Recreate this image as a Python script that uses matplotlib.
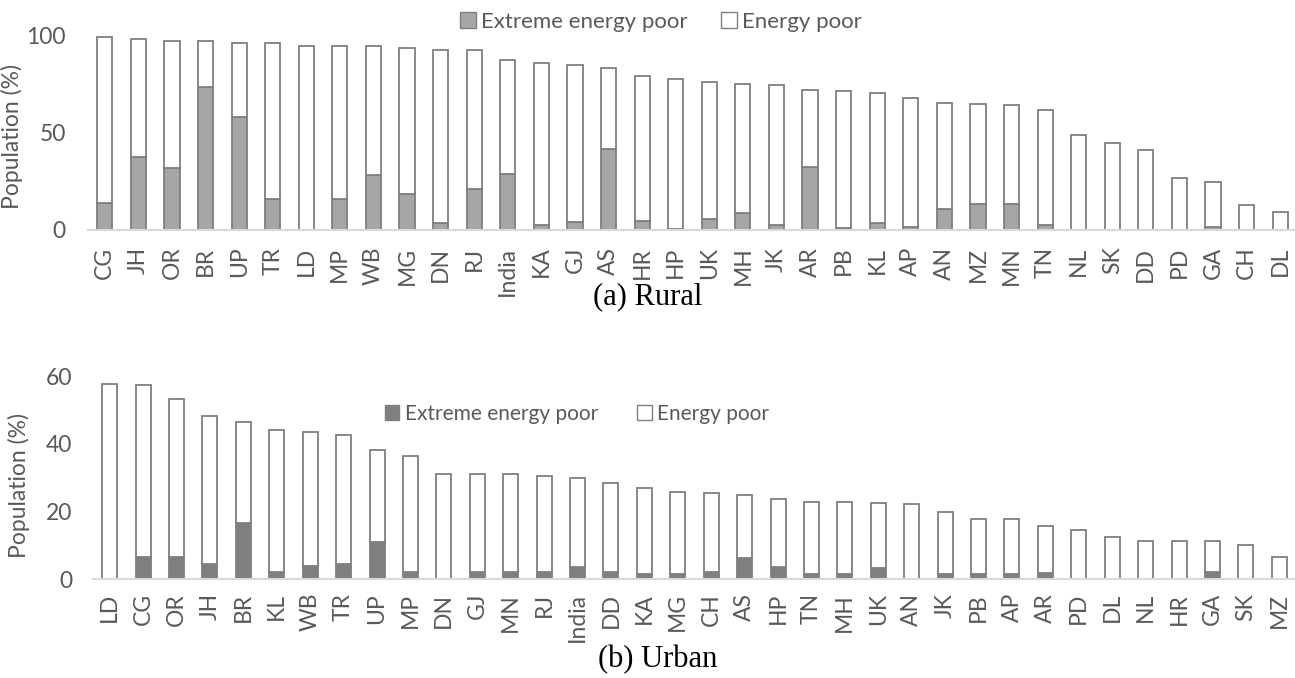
import numpy as np
import matplotlib.pyplot as plt
from matplotlib.patches import Patch

plt.rcParams['font.family'] = ['Lato', 'DejaVu Sans']

# 农村 (rural): 能源贫困总比例 和 极端能源贫困比例
rural_states = ['CG', 'JH', 'OR', 'BR', 'UP', 'TR', 'LD', 'MP', 'WB', 'MG', 'DN', 'RJ',
                'India', 'KA', 'GJ', 'AS', 'HR', 'HP', 'UK', 'MH', 'JK', 'AR', 'PB', 'KL',
                'AP', 'AN', 'MZ', 'MN', 'TN', 'NL', 'SK', 'DD', 'PD', 'GA', 'CH', 'DL']
rural_total = [98.8, 98.1, 96.9, 96.9, 95.7, 95.7, 94.4, 94.4, 94.4, 93.5, 92.3, 92.3,
               87.0, 85.8, 84.4, 82.9, 78.8, 77.6, 75.9, 75.0, 74.4, 71.8, 71.3, 70.4,
               67.9, 65.3, 64.6, 63.9, 61.4, 48.7, 44.8, 40.9, 26.8, 24.8, 13.0, 9.1]
rural_extreme = [13.7, 37.6, 31.6, 73.2, 57.8, 15.7, 0.0, 15.7, 28.2, 18.5, 3.4, 21.0,
                 28.6, 2.6, 3.9, 41.5, 4.8, 0.5, 5.8, 8.5, 2.6, 32.1, 1.2, 3.4,
                 1.7, 10.6, 13.3, 13.3, 2.6, 0.0, 0.0, 0.0, 0.0, 1.7, 0.0, 0.0]

# 城市 (urban)
urban_states = ['LD', 'CG', 'OR', 'JH', 'BR', 'KL', 'WB', 'TR', 'UP', 'MP', 'DN', 'GJ',
                'MN', 'RJ', 'India', 'DD', 'KA', 'MG', 'CH', 'AS', 'HP', 'TN', 'MH', 'UK',
                'AN', 'JK', 'PB', 'AP', 'AR', 'PD', 'DL', 'NL', 'HR', 'GA', 'SK', 'MZ']
urban_total = [57.9, 57.5, 53.2, 48.3, 46.5, 44.1, 43.5, 42.6, 38.1, 36.5, 31.2, 31.2,
               31.2, 30.5, 29.8, 28.5, 27.1, 25.9, 25.5, 24.8, 23.6, 22.8, 22.8, 22.5,
               22.1, 19.9, 17.9, 17.9, 15.7, 14.4, 12.5, 11.4, 11.4, 11.4, 10.0, 6.5]
urban_extreme = [0.0, 6.6, 6.6, 4.4, 16.7, 2.2, 4.0, 4.4, 11.0, 2.2, 0.0, 2.2,
                 2.2, 2.2, 3.6, 2.2, 1.4, 1.4, 2.2, 6.2, 3.6, 1.4, 1.4, 3.3,
                 0.0, 1.4, 1.4, 1.4, 1.9, 0.0, 0.0, 0.0, 0.0, 2.2, 0.0, 0.0]

W, H = 1295, 678
fig = plt.figure(figsize=(W / 100, H / 100), dpi=100)

edge = '#7f7f7f'
txt = '#595959'
fs = 16.5


def draw(ax, states, total, extreme, ext_color, ymax, yticks, ypad, xpad,
         label_xy, leg_anchor, leg_fs, colspace):
    x = np.arange(len(states))
    total = np.array(total)
    extreme = np.array(extreme)
    ax.bar(x, extreme, width=0.45, color=ext_color, edgecolor=edge, linewidth=1.3)
    ax.bar(x, total - extreme, bottom=extreme, width=0.45, color='white',
           edgecolor=edge, linewidth=1.3)
    ax.set_xlim(-0.5, len(states) - 0.5)
    ax.set_ylim(0, ymax)
    ax.set_yticks(yticks)
    ax.set_xticks(x)
    ax.set_xticklabels(states, rotation=90, fontsize=fs, color=txt)
    ax.tick_params(axis='y', labelsize=fs, labelcolor=txt, length=0, pad=ypad)
    ax.tick_params(axis='x', length=0, pad=xpad)
    for s in ['top', 'right', 'left']:
        ax.spines[s].set_visible(False)
    ax.spines['bottom'].set_color('#d9d9d9')
    ax.spines['bottom'].set_linewidth(1.5)
    ax.set_ylabel('Population (%)', fontsize=fs, color=txt)
    ax.yaxis.set_label_coords(*label_xy)
    handles = [Patch(facecolor=ext_color, edgecolor=edge, label='Extreme energy poor'),
               Patch(facecolor='white', edgecolor=edge, label='Energy poor')]
    leg = fig.legend(handles=handles, loc='center', bbox_to_anchor=leg_anchor, ncol=2,
                     frameon=False, fontsize=leg_fs, handlelength=0.7, handleheight=0.7,
                     handletextpad=0.25, columnspacing=colspace)
    for t in leg.get_texts():
        t.set_color(txt)


# 上图：农村
ax1 = fig.add_axes([88 / W, 1 - 230 / H, (1297 - 88) / W, 195 / H])
draw(ax1, rural_states, rural_total, rural_extreme, '#a6a6a6', 100, [0, 50, 100],
     16, 12, (-0.054, 0.48), (661 / W, 1 - 22 / H), 16, 1.5)
fig.text(648 / W, 1 - 297 / H, '(a) Rural', ha='center', va='center',
         fontsize=22, family='Liberation Serif')

# 下图：城市
ax2 = fig.add_axes([93 / W, 1 - 579 / H, (1296 - 93) / W, 202.5 / H])
draw(ax2, urban_states, urban_total, urban_extreme, '#7f7f7f', 60, [0, 20, 40, 60],
     15, 10, (-0.052, 0.46), (577 / W, 1 - 414 / H), 15, 1.9)
fig.text(658 / W, 1 - 660 / H, '(b) Urban', ha='center', va='center',
         fontsize=22, family='Liberation Serif')

fig.savefig('out.png', dpi=100)
